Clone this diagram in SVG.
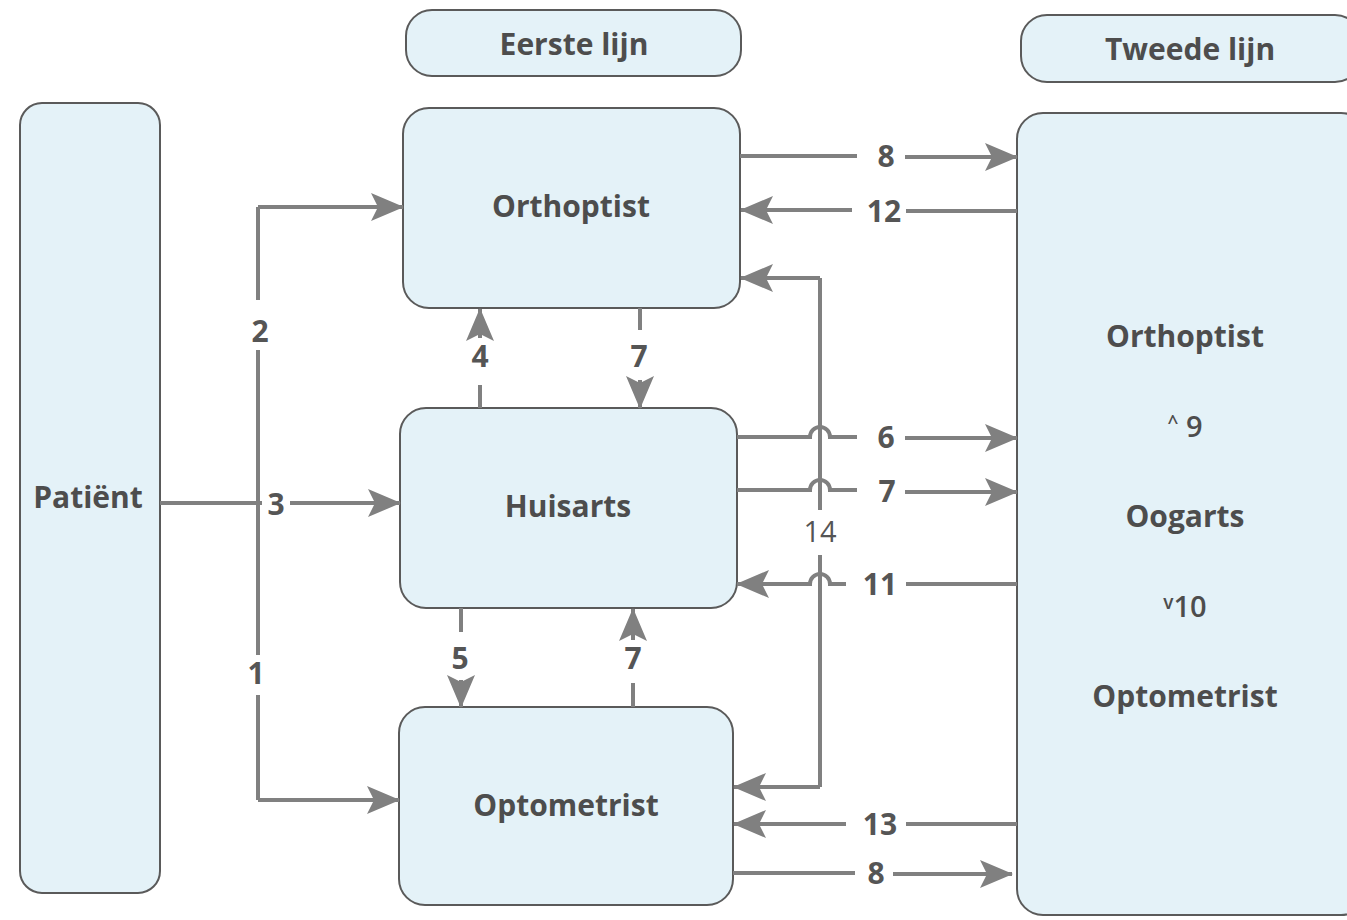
<svg xmlns="http://www.w3.org/2000/svg" width="1347" height="920" viewBox="0 0 1347 920">
<style>
.box{fill:#e4f2f8;stroke:#5a5a5a;stroke-width:2}
.t{font-family:"Open Sans","Noto Sans",sans-serif;font-weight:700;font-size:30px;fill:#4d4d4d;text-anchor:middle}
.n{font-family:"Open Sans","Noto Sans",sans-serif;font-weight:700;font-size:30px;fill:#555;text-anchor:middle}
.r{font-family:"Open Sans","Noto Sans",sans-serif;font-weight:400;font-size:29px;fill:#555;text-anchor:middle}
.s{font-family:"Open Sans","Noto Sans",sans-serif;font-weight:600;font-size:29px;fill:#4d4d4d;text-anchor:middle}
.c{fill:none;stroke:#808080;stroke-width:4}
.a{fill:none;stroke:#808080;stroke-width:4;marker-end:url(#ah)}
</style>
<defs>
<marker id="ah" markerUnits="userSpaceOnUse" markerWidth="36" markerHeight="32" refX="32" refY="15" orient="auto">
<path d="M0,1 L33,15 L0,29 L7,15 z" fill="#808080"/>
</marker>
</defs>
<rect width="1347" height="920" fill="#ffffff"/>

<g id="patient"><rect class="box" x="20" y="103" width="140" height="790" rx="22"/><text class="t" x="88" y="508">Patiënt</text></g>
<g id="eerste-lijn"><rect class="box" x="406" y="10" width="335" height="66" rx="26"/><text class="t" x="574" y="55">Eerste lijn</text></g>
<g id="tweede-lijn"><rect class="box" x="1021" y="15" width="340" height="67" rx="26"/><text class="t" x="1190" y="60">Tweede lijn</text></g>
<g id="orthoptist"><rect class="box" x="403" y="108" width="337" height="200" rx="26"/><text class="t" x="571" y="217">Orthoptist</text></g>
<g id="huisarts"><rect class="box" x="400" y="408" width="337" height="200" rx="26"/><text class="t" x="568" y="517">Huisarts</text></g>
<g id="optometrist"><rect class="box" x="399" y="707" width="334" height="198" rx="26"/><text class="t" x="566" y="816">Optometrist</text></g>
<g id="tweede-lijn-box"><rect class="box" x="1017" y="113" width="350" height="802" rx="26"/>
<text class="t" x="1185" y="347">Orthoptist</text>
<text class="s" x="1185" y="437"><tspan font-size="19" dy="-8">^</tspan><tspan dy="8"> 9</tspan></text>
<text class="t" x="1185" y="527">Oogarts</text>
<text class="s" x="1185" y="617"><tspan font-size="19" dy="-8">v</tspan><tspan dy="8">10</tspan></text>
<text class="t" x="1185" y="707">Optometrist</text>
</g>

<g id="connectors">
<!-- patient lines -->
<path class="c" d="M160,503 L262,503"/>
<path class="a" d="M290,503 L400,503"/>
<path class="c" d="M258,300 L258,207"/>
<path class="a" d="M258,207 L403,207"/>
<path class="c" d="M258,350 L258,655"/>
<path class="c" d="M258,695 L258,800"/>
<path class="a" d="M258,800 L399,800"/>
<!-- vertical between boxes -->
<path class="c" d="M480,408 L480,385"/>
<path class="a" d="M480,338 L480,309"/>
<path class="c" d="M640,308 L640,330"/>
<path class="a" d="M640,380 L640,408"/>
<path class="c" d="M461,608 L461,632"/>
<path class="a" d="M461,680 L461,707"/>
<path class="c" d="M633,707 L633,683"/>
<path class="a" d="M633,640 L633,609"/>
<!-- right side -->
<path class="c" d="M740,156 L857,156"/>
<path class="a" d="M905,157 L1017,157"/>
<path class="c" d="M1017,211 L906,211"/>
<path class="a" d="M852,210 L741,210"/>
<path class="c" d="M820,510 L820,278"/>
<path class="a" d="M820,278 L741,278"/>
<path class="c" d="M820,555 L820,787"/>
<path class="a" d="M820,787 L734,787"/>
<path class="c" d="M737,437 L810,437 A10,10 0 0 1 830,437 L857,437"/>
<path class="a" d="M905,438 L1017,438"/>
<path class="c" d="M737,490 L810,490 A10,10 0 0 1 830,490 L857,490"/>
<path class="a" d="M905,492 L1017,492"/>
<path class="c" d="M1017,584 L906,584"/>
<path class="a" d="M846,584 L830,584 A10,10 0 0 0 810,584 L737,584"/>
<path class="c" d="M1017,824 L906,824"/>
<path class="a" d="M846,824 L734,824"/>
<path class="c" d="M733,873 L855,873"/>
<path class="a" d="M893,874 L1012,874"/>
</g>

<g id="labels">
<text class="n" x="276" y="515">3</text>
<text class="n" x="260" y="342">2</text>
<text class="n" x="256" y="684">1</text>
<text class="n" x="480" y="367">4</text>
<text class="n" x="639" y="367">7</text>
<text class="n" x="460" y="669">5</text>
<text class="n" x="633" y="669">7</text>
<text class="n" x="886" y="167">8</text>
<text class="n" x="884" y="222">12</text>
<text class="n" x="886" y="448">6</text>
<text class="n" x="887" y="502">7</text>
<text class="r" x="820" y="542">14</text>
<text class="n" x="880" y="595">11</text>
<text class="n" x="880" y="835">13</text>
<text class="n" x="876" y="884">8</text>
</g>
</svg>
